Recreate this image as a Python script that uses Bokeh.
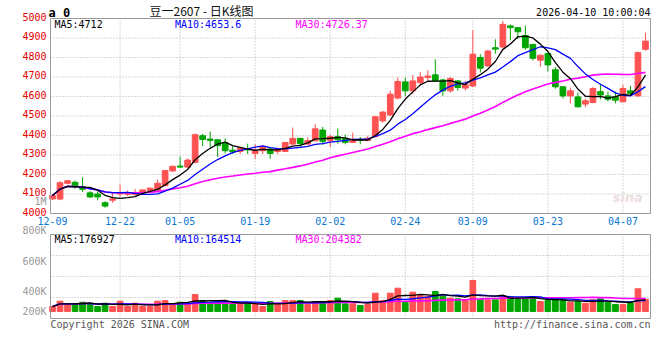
import numpy as np
import pandas as pd
from bokeh.plotting import figure
from bokeh.models import ColumnDataSource, Range1d
from bokeh.core.properties import value
from bokeh.embed import file_html
from bokeh.resources import INLINE

# ---------------- data ----------------
tick_index = [0, 9, 17, 27, 37, 47, 56, 66, 76]
tick_labels = ["12-09", "12-22", "01-05", "01-19", "02-02", "02-24", "03-09", "03-23", "04-07"]
price_ticks = [4000, 4100, 4200, 4300, 4400, 4500, 4600, 4700, 4800, 4900, 5000]
vol_axis_labels = ["1M", "800K", "600K", "400K", "200K"]

opens = [4075, 4074, 4155, 4160, 4138, 4106, 4100, 4055, 4068, 4100,
         4098, 4097, 4106, 4118, 4120, 4143, 4218, 4243, 4238, 4262,
         4399, 4382, 4378, 4362, 4325, 4318, 4330, 4308, 4322, 4331,
         4318, 4318, 4356, 4385, 4356, 4373, 4428, 4373, 4394, 4385,
         4365, 4380, 4374, 4394, 4475, 4505, 4592, 4675, 4629, 4671,
         4697, 4711, 4685, 4629, 4680, 4643, 4654, 4800, 4757, 4850,
         4854, 4962, 4953, 4913, 4867, 4786, 4820, 4737, 4650, 4603,
         4598, 4561, 4569, 4625, 4603, 4598, 4573, 4629, 4603, 4842]
highs = [4098, 4165, 4172, 4169, 4186, 4115, 4112, 4063, 4108, 4150,
         4118, 4126, 4124, 4133, 4175, 4222, 4245, 4292, 4282, 4410,
         4408, 4420, 4380, 4385, 4348, 4340, 4358, 4355, 4348, 4335,
         4338, 4366, 4441, 4388, 4390, 4458, 4444, 4405, 4436, 4405,
         4415, 4392, 4398, 4500, 4526, 4629, 4697, 4697, 4711, 4726,
         4735, 4791, 4690, 4700, 4685, 4680, 4940, 4817, 4840, 4893,
         4987, 4970, 4955, 4964, 4870, 4815, 4822, 4752, 4652, 4646,
         4620, 4588, 4648, 4665, 4625, 4625, 4660, 4655, 4830, 4927]
lows = [4068, 4068, 4150, 4127, 4110, 4080, 4068, 4030, 4055, 4085,
        4090, 4092, 4100, 4110, 4115, 4140, 4214, 4235, 4235, 4258,
        4345, 4340, 4290, 4308, 4305, 4305, 4305, 4280, 4305, 4280,
        4305, 4315, 4352, 4340, 4350, 4370, 4352, 4340, 4358, 4355,
        4362, 4355, 4370, 4390, 4465, 4500, 4585, 4603, 4612, 4654,
        4680, 4675, 4603, 4620, 4630, 4630, 4650, 4723, 4752, 4819,
        4850, 4888, 4895, 4840, 4785, 4753, 4728, 4640, 4590, 4564,
        4545, 4545, 4565, 4585, 4575, 4565, 4570, 4605, 4600, 4835]
closes = [4092, 4158, 4168, 4135, 4124, 4085, 4085, 4038, 4075, 4106,
          4104, 4108, 4121, 4130, 4155, 4220, 4242, 4238, 4274, 4404,
          4380, 4375, 4348, 4322, 4316, 4336, 4326, 4322, 4343, 4308,
          4330, 4364, 4385, 4358, 4374, 4434, 4370, 4394, 4378, 4365,
          4378, 4376, 4386, 4496, 4520, 4612, 4677, 4629, 4680, 4700,
          4705, 4680, 4629, 4692, 4646, 4660, 4817, 4745, 4833, 4843,
          4970, 4953, 4932, 4850, 4796, 4812, 4762, 4650, 4603, 4629,
          4547, 4578, 4641, 4608, 4586, 4581, 4641, 4615, 4825, 4884]
volumes = [76000, 157000, 117000, 117000, 141000, 117000, 76000, 126000, 76000, 157000,
           76000, 126000, 76000, 76000, 157000, 167000, 117000, 141000, 117000, 258000,
           167000, 141000, 141000, 141000, 106000, 117000, 137000, 106000, 76000, 152000,
           106000, 167000, 167000, 167000, 106000, 152000, 152000, 167000, 202000, 117000,
           117000, 91000, 106000, 278000, 167000, 278000, 354000, 141000, 293000, 243000,
           233000, 304000, 233000, 202000, 193000, 167000, 471000, 178000, 178000, 178000,
           243000, 228000, 193000, 193000, 217000, 152000, 167000, 178000, 178000, 141000,
           152000, 126000, 178000, 193000, 141000, 106000, 106000, 141000, 345000, 187000]

RED = "#ff5252"
GREEN = "#00a600"
GRID = "#b4b4b4"
BORDER = "#9a9a9a"
MONO = "DejaVu Sans Mono"

o = np.array(opens, float)
c = np.array(closes, float)
N = len(c)
idx = np.arange(N)
colors = np.where(c >= o, RED, GREEN)
src = ColumnDataSource(dict(x=idx, h=highs, l=lows,
                            top=np.maximum(o, c), bot=np.minimum(o, c),
                            color=colors, vol=volumes))
cs = pd.Series(c)
vs = pd.Series(np.array(volumes, float))
ma = ColumnDataSource(dict(
    x=idx,
    m5=cs.rolling(5, min_periods=1).mean(), m10=cs.rolling(10, min_periods=1).mean(),
    m30=cs.rolling(30, min_periods=1).mean(),
    v5=vs.rolling(5, min_periods=1).mean(), v10=vs.rolling(10, min_periods=1).mean(),
    v30=vs.rolling(30, min_periods=1).mean()))

# ---------------- layout (canvas pixels) ----------------
W, H = 652, 332
FL, FR = 50, 650                 # panel left / right
PT, PB = 18, 213                 # price panel top / bottom
VT, VB = 234, 318                # volume panel top / bottom
IX0, IX1 = -0.27, 79.67          # index range shown in panels
P0, P1 = 4000, 5000
V0, V1 = -106000, 1170000

kx = (IX1 - IX0) / (FR - FL)
kp = (P1 - P0) / (PB - PT)
kv = (V1 - V0) / (VB - VT)

p = figure(width=W, height=H, x_range=Range1d(0, W), y_range=Range1d(H, 0),
           output_backend="svg", toolbar_location=None,
           x_axis_location=None, y_axis_location=None,
           min_border=0, min_border_left=0, min_border_right=0,
           min_border_top=0, min_border_bottom=0,
           background_fill_color="white", border_fill_color="white",
           outline_line_color=None)
p.grid.visible = False
p.extra_x_ranges = {"idx": Range1d(IX0 - FL * kx, IX1 + (W - FR) * kx)}
p.extra_y_ranges = {"price": Range1d(P0 - (H - PB) * kp, P1 + PT * kp),
                    "vol": Range1d(V0 - (H - VB) * kv, V1 + VT * kv)}

# ---------- grids ----------
inner_p = price_ticks[1:-1]
p.segment(x0=IX0, x1=IX1, y0=inner_p, y1=inner_p, line_color=GRID, line_dash="1 2",
          x_range_name="idx", y_range_name="price")
p.segment(x0=tick_index[1:], x1=tick_index[1:], y0=P0, y1=P1, line_color=GRID,
          line_dash="1 2", x_range_name="idx", y_range_name="price")
vstep = (V1 - V0) / 4
vgrid = [V0 + k * vstep for k in (1, 2, 3)]
p.segment(x0=IX0, x1=IX1, y0=vgrid, y1=vgrid, line_color=GRID, line_dash="1 2",
          x_range_name="idx", y_range_name="vol")
p.segment(x0=tick_index[1:], x1=tick_index[1:], y0=V0, y1=V1, line_color=GRID,
          line_dash="1 2", x_range_name="idx", y_range_name="vol")

# ---------- candles ----------
p.segment(x0="x", y0="l", x1="x", y1="h", line_color="color", line_width=1,
          source=src, x_range_name="idx", y_range_name="price")
p.vbar(x="x", top="top", bottom="bot", width=0.76, fill_color="color",
       line_color="color", line_width=1, source=src, x_range_name="idx", y_range_name="price")
p.line("x", "m30", source=ma, line_color="#ff00ff", line_width=1.6,
       x_range_name="idx", y_range_name="price")
p.line("x", "m10", source=ma, line_color="#0000ff", line_width=1.3,
       x_range_name="idx", y_range_name="price")
p.line("x", "m5", source=ma, line_color="black", line_width=1.3,
       x_range_name="idx", y_range_name="price")

# ---------- volume ----------
p.vbar(x="x", top="vol", bottom=0, width=0.76, fill_color="color",
       line_color="color", line_width=1, source=src, x_range_name="idx", y_range_name="vol")
p.line("x", "v30", source=ma, line_color="#ff00ff", line_width=1.6,
       x_range_name="idx", y_range_name="vol")
p.line("x", "v10", source=ma, line_color="#0000ff", line_width=1.3,
       x_range_name="idx", y_range_name="vol")
p.line("x", "v5", source=ma, line_color="black", line_width=1.3,
       x_range_name="idx", y_range_name="vol")

# ---------- panel borders ----------
p.quad(left=IX0, right=IX1, bottom=P0, top=P1, fill_color=None, line_color=BORDER,
       line_width=1, x_range_name="idx", y_range_name="price")
p.quad(left=IX0, right=IX1, bottom=V0, top=V1, fill_color=None, line_color=BORDER,
       line_width=1, x_range_name="idx", y_range_name="vol")


def txt(xs, ys, texts, color, size="10px", align="left", font=MONO, style="normal",
        xr="default", yr="default", yoff=0):
    p.text(x=xs, y=ys, text=texts, text_color=color, text_font=value(font),
           text_font_size=value(size), text_align=align, text_baseline="middle",
           text_font_style=style, x_range_name=xr, y_range_name=yr, y_offset=yoff)


# axis-like labels
txt([46] * len(price_ticks), price_ticks, [str(t) for t in price_ticks], "#e60000",
    align="right", yr="price", yoff=-2)
txt(tick_index, [220.5] * len(tick_index), tick_labels, "#0a78d2", align="center", xr="idx")
txt([46] * 5, [200.5, 229.5, 260.7, 290.7, 310.7], vol_axis_labels, "#999999", align="right")

# header
txt([48], [12.2], ["a 0"], "black", size="12px", style="bold")
txt([201], [9.5], ["豆一2607 - 日K线图"], "#111111", size="12px", align="center",
    font="Noto Sans CJK SC")
txt([650], [11.7], ["2026-04-10 10:00:04"], "black", align="right")

# MA readouts
txt([54], [23.7], ["MA5:4712"], "black")
txt([174.5], [23.7], ["MA10:4653.6"], "#0000ff")
txt([295], [23.7], ["MA30:4726.37"], "#ff00ff")
txt([54], [238.5], ["MA5:176927"], "black")
txt([174.5], [238.5], ["MA10:164514"], "#0000ff")
txt([295], [238.5], ["MA30:204382"], "#ff00ff")

# watermark and footer
txt([612], [197], ["sina"], "#ecdede", size="13px", style="bold italic", font="DejaVu Sans")
txt([50], [323.5], ["Copyright 2026 SINA.COM"], "#555555")
txt([650], [323.5], ["http://finance.sina.com.cn"], "#555555", align="right")

open("out.html", "w").write(file_html(p, INLINE))
